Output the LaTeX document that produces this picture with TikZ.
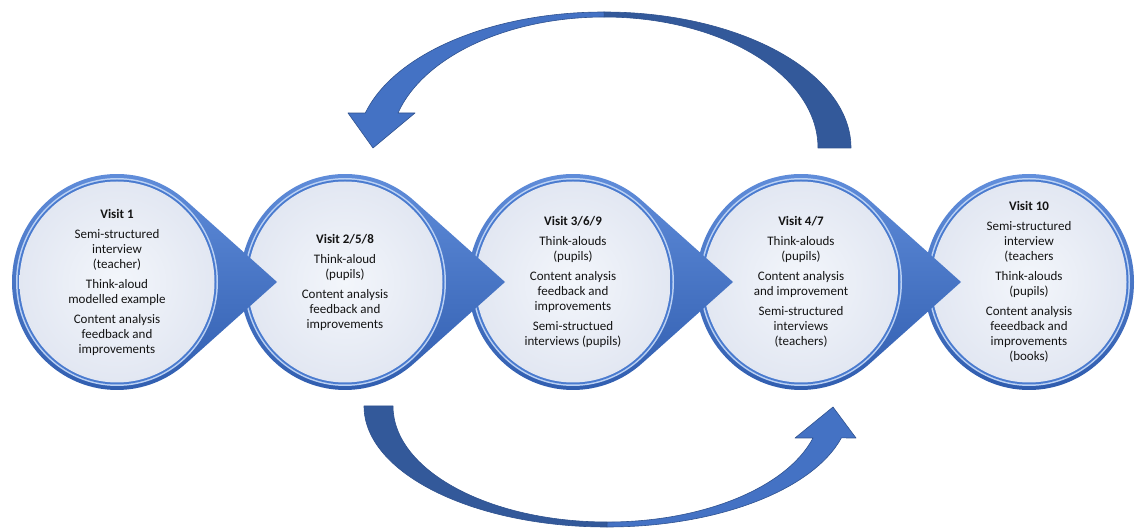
\documentclass[tikz,border=0pt]{standalone}
\usepackage{fontspec}
\setmainfont{Carlito}
\usetikzlibrary{calc}

\definecolor{ringhi}{HTML}{628FDC}
\definecolor{ringlo}{HTML}{2F5CAE}
\definecolor{ringglint}{HTML}{BCD2F4}
\definecolor{ringinner}{HTML}{4A7BCF}
\definecolor{faceA}{HTML}{F3F6FB}
\definecolor{faceB}{HTML}{E2E7F2}
\definecolor{arrowfront}{HTML}{4472C4}
\definecolor{arrowback}{HTML}{33599A}
\definecolor{arrowedge}{HTML}{2F528F}
\definecolor{txt}{HTML}{141414}

\tikzset{
  visittext/.style={align=center, text=txt, inner sep=0pt,
                    font=\fontsize{13}{15}\selectfont},
  shell/.style={top color=ringhi, bottom color=ringlo},
  glint/.style={fill=ringglint},
  innerband/.style={fill=ringinner},
  face/.style={inner color=faceA, outer color=faceB},
  backside/.style={fill=arrowback, draw=arrowedge, line width=0.6pt, line join=round},
  frontside/.style={fill=arrowfront, draw=arrowedge, line width=0.6pt, line join=round},
}

% ring with a pointed tail towards the next visit (#1 = centre x)
\newcommand\visitdisc[1]{%
  \shade[shell] (#1,246) ++(49:105 and 108)
     arc[start angle=49, end angle=311, x radius=105, y radius=108]
     -- (#1+160,246) -- cycle;
  \fill[glint]     (#1,246) ellipse[x radius=101, y radius=104];
  \fill[innerband] (#1,246) ellipse[x radius=99.5, y radius=102.5];
  \shade[face]     (#1,246) ellipse[x radius=97.5, y radius=100.5];
}
% last ring, no tail
\newcommand\visitlast[1]{%
  \shade[shell]    (#1,246) ellipse[x radius=105, y radius=108];
  \fill[glint]     (#1,246) ellipse[x radius=101, y radius=104];
  \fill[innerband] (#1,246) ellipse[x radius=99.5, y radius=102.5];
  \shade[face]     (#1,246) ellipse[x radius=97.5, y radius=100.5];
}

\begin{document}
\begin{tikzpicture}[x=1pt, y=1pt]
\useasboundingbox (0,0) rectangle (1136,528);

% ---- loop-back arrow over the top ----
\coordinate (topc) at (604,380);
\path[backside] (851,380)
   arc[start angle=0, end angle=90, x radius=247, y radius=136]
   -- (604,511)
   arc[start angle=90, end angle=0, x radius=214, y radius=131] -- cycle;
\path[frontside] (604,516)
   arc[start angle=90, end angle=165.1, x radius=247, y radius=136]
   -- (348,415) -- (373,380) -- (415,415) -- (398,415)
   arc[start angle=164.5, end angle=90, x radius=214, y radius=131] -- cycle;

% ---- forward arrow underneath ----
\coordinate (botc) at (607,122);
\path[backside] (364,122)
   arc[start angle=180, end angle=270, x radius=243, y radius=121]
   -- (607,6)
   arc[start angle=270, end angle=180, x radius=214, y radius=116] -- cycle;
\path[frontside] (607,1)
   arc[start angle=270, end angle=344.7, x radius=243, y radius=121]
   -- (856,90) -- (833,121) -- (795,90) -- (813,90)
   arc[start angle=344, end angle=270, x radius=214, y radius=116] -- cycle;

% ---- visit rings, drawn right to left so each tail lies on top ----
\visitlast{1029}
\node[visittext] (v5) at (1029,246) {\textbf{Visit 10}\\[5pt]
  Semi-structured\\interview\\(teachers\\[5pt]
  Think-alouds\\(pupils)\\[5pt]
  Content analysis\\feeedback and\\improvements\\(books)};

\visitdisc{801}
\node[visittext] (v4) at (801,246) {\textbf{Visit 4/7}\\[5pt]
  Think-alouds\\(pupils)\\[5pt]
  Content analysis\\and improvement\\[5pt]
  Semi-structured\\interviews\\(teachers)};

\visitdisc{573}
\node[visittext] (v3) at (573,246) {\textbf{Visit 3/6/9}\\[5pt]
  Think-alouds\\(pupils)\\[5pt]
  Content analysis\\feedback and\\improvements\\[5pt]
  Semi-structued\\interviews (pupils)};

\visitdisc{345}
\node[visittext] (v2) at (345,246) {\textbf{Visit 2/5/8}\\[5pt]
  Think-aloud\\(pupils)\\[5pt]
  Content analysis\\feedback and\\improvements};

\visitdisc{117}
\node[visittext] (v1) at (117,246) {\textbf{Visit 1}\\[5pt]
  Semi-structured\\interview\\(teacher)\\[5pt]
  Think-aloud\\modelled example\\[5pt]
  Content analysis\\feedback and\\improvements};
\end{tikzpicture}
\end{document}
